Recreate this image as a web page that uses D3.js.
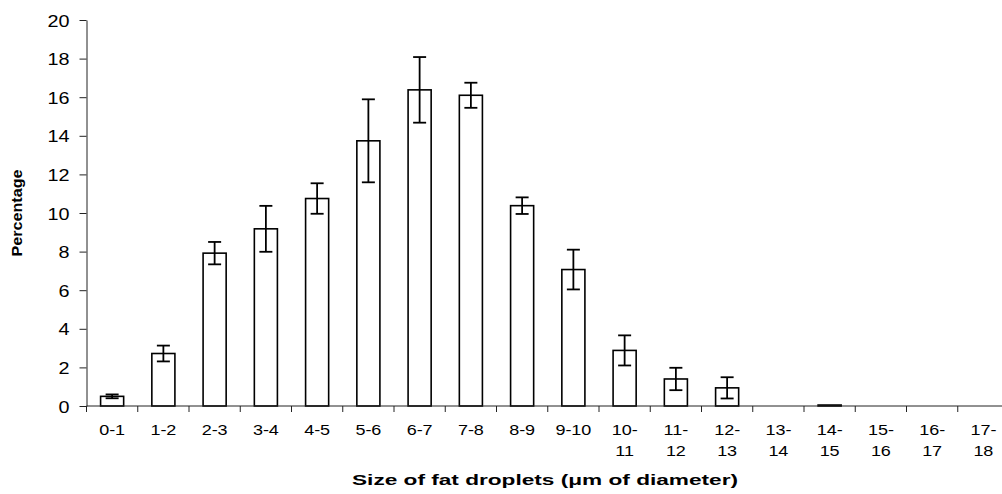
<!DOCTYPE html>
<meta charset="utf-8">
<style>
body { margin: 0; background: #fff; }
text { font-family: "Liberation Sans", Arial, sans-serif; fill: #000; }
</style>
<svg width="1002" height="494"></svg>
<script src="https://d3js.org/d3.v7.min.js"></script>
<script>

// size classes (um of diameter)
var categories = ["0-1","1-2","2-3","3-4","4-5","5-6","6-7","7-8","8-9","9-10",
                  "10-11","11-12","12-13","13-14","14-15","15-16","16-17","17-18"];
// percentage of droplets in each class
var percents = [0.5, 2.72, 7.92, 9.18, 10.75, 13.74, 16.38, 16.1, 10.38, 7.07,
                2.88, 1.4, 0.94, 0, 0.05, 0, 0, 0];
// half length of the error bars
var errors = [0.1, 0.41, 0.58, 1.19, 0.79, 2.15, 1.7, 0.65, 0.43, 1.03,
              0.78, 0.58, 0.55, 0, 0, 0, 0, 0];
var yTicks = [0, 2, 4, 6, 8, 10, 12, 14, 16, 18, 20];

var svg = d3.select("svg");

var plotLeft = 86.5, plotRight = 1009, plotTop = 20, plotBottom = 406;
var stretch = 1.2; // labels in the picture are a bit wide

var x = d3.scaleBand().domain(categories).range([plotLeft, plotRight]).padding(0);
var y = d3.scaleLinear().domain([0, 20]).range([plotBottom, plotTop]);

var barW = x.bandwidth() * 0.45;
var capW = 13;

// y axis
var yAxis = svg.append("g")
   .attr("transform", "translate(" + plotLeft + ",0)")
   .call(d3.axisLeft(y).tickValues(yTicks).tickSize(7).tickSizeOuter(0).tickFormat(d3.format("d")));
yAxis.select(".domain").attr("stroke", "#222");
yAxis.selectAll(".tick line").attr("stroke", "#222");
yAxis.selectAll(".tick text")
   .attr("x", null).attr("dy", null)
   .attr("text-anchor", "end")
   .attr("transform", "translate(-17,6) scale(" + stretch + ",1)")
   .style("font-size", "16.5px")
   .style("font-family", "'Liberation Sans', Arial, sans-serif");

// bars
svg.append("g").selectAll("rect")
   .data(categories)
   .enter().append("rect")
   .attr("x", function(d) { return x(d) + (x.bandwidth() - barW) / 2; })
   .attr("y", function(d, i) { return y(percents[i]); })
   .attr("width", barW)
   .attr("height", function(d, i) { return plotBottom - y(percents[i]); })
   .style("fill", "#fff")
   .style("stroke", "#000")
   .style("stroke-width", 1.6);

// error bars
var eb = svg.append("g").selectAll("g")
   .data(categories.filter(function(d, i) { return errors[i] > 0; }))
   .enter().append("g")
   .style("stroke", "#000")
   .style("stroke-width", 1.8);
function cx(d) { return x(d) + x.bandwidth() / 2; }
function idx(d) { return categories.indexOf(d); }
eb.append("line")
   .attr("x1", cx).attr("x2", cx)
   .attr("y1", function(d) { return y(percents[idx(d)] + errors[idx(d)]); })
   .attr("y2", function(d) { return y(percents[idx(d)] - errors[idx(d)]); });
[1, -1].forEach(function(s) {
  eb.append("line")
     .attr("x1", function(d) { return cx(d) - capW / 2; })
     .attr("x2", function(d) { return cx(d) + capW / 2; })
     .attr("y1", function(d) { return y(percents[idx(d)] + s * errors[idx(d)]); })
     .attr("y2", function(d) { return y(percents[idx(d)] + s * errors[idx(d)]); });
});

// x axis line with ticks on the class boundaries
var xa = svg.append("g").style("stroke", "#222").style("stroke-width", 1);
xa.append("line").attr("x1", plotLeft).attr("x2", plotRight).attr("y1", plotBottom).attr("y2", plotBottom);
xa.selectAll(".xt")
   .data(categories)
   .enter().append("line")
   .attr("class", "xt")
   .attr("x1", function(d) { return x(d); })
   .attr("x2", function(d) { return x(d); })
   .attr("y1", plotBottom).attr("y2", plotBottom + 6);

// x tick labels, long ones break after the dash
var xl = svg.append("g").selectAll("text")
   .data(categories)
   .enter().append("text")
   .attr("text-anchor", "middle")
   .attr("transform", function(d) { return "translate(" + cx(d) + "," + (plotBottom + 29) + ") scale(" + stretch + ",1)"; })
   .style("font-size", "15px");
xl.each(function(d) {
  var t = d3.select(this);
  var parts = d.split("-");
  if (+parts[0] >= 10) {
    t.append("tspan").attr("x", 0).attr("y", 0).text(parts[0] + "-");
    t.append("tspan").attr("x", 0).attr("y", 21).text(parts[1]);
  } else {
    t.text(d);
  }
});

// axis titles
svg.append("text")
   .attr("x", 352).attr("y", 485)
   .attr("textLength", 386).attr("lengthAdjust", "spacingAndGlyphs")
   .style("font-size", "15px").style("font-weight", "bold")
   .text("Size of fat droplets (\u03bcm of diameter)");

svg.append("text")
   .attr("transform", "translate(22,213) rotate(-90)")
   .attr("text-anchor", "middle")
   .attr("textLength", 87).attr("lengthAdjust", "spacingAndGlyphs")
   .style("font-size", "14px").style("font-weight", "bold")
   .text("Percentage");

</script>
